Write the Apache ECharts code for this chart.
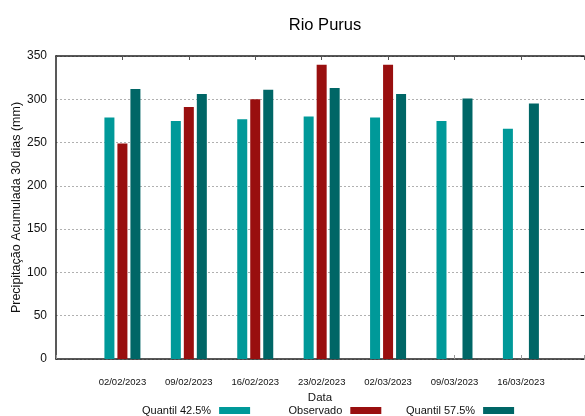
<!DOCTYPE html>
<html>
<head>
<meta charset="utf-8">
<script src="https://cdn.jsdelivr.net/npm/echarts@6/dist/echarts.min.js"></script>
<style>
html,body{margin:0;padding:0;background:#fff;}
#chart{width:585px;height:416px;}
</style>
</head>
<body>
<div id="chart"></div>
<script>
var titleText = 'Rio Purus';
var dates = ['02/02/2023','09/02/2023','16/02/2023','23/02/2023','02/03/2023','09/03/2023','16/03/2023'];
var quantil425 = [279, 275, 277, 280, 279, 275, 266];
var observado = [249, 291, 300, 340, 340, null, null];
var quantil575 = [312, 306, 311, 313, 306, 301, 295];
var seriesNames = ['Quantil 42.5%', 'Observado', 'Quantil 57.5%'];
var yTicks = [0, 50, 100, 150, 200, 250, 300, 350];

var FONT = "'Liberation Sans Narrow', 'Liberation Sans', Arial, sans-serif";
var colors = ['#009999', '#990f0f', '#006666'];

function toPoints(arr) {
  return arr.map(function (v, i) { return [i + 1, v]; });
}

var chart = echarts.init(document.getElementById('chart'), null, {renderer: 'canvas'});

var xCommon = {
  type: 'value', min: 0, max: 7.95, interval: 1,
  splitLine: {show: false}
};

var legendBase = {
  orient: 'horizontal', align: 'right', top: 405, padding: 0,
  itemWidth: 31, itemHeight: 7, icon: 'rect',
  textStyle: {fontFamily: FONT, fontSize: 11, color: '#111', padding: [0, 3, 0, 0]},
  selectedMode: false
};

chart.setOption({
  animation: false,
  backgroundColor: '#fff',
  title: {
    text: titleText, left: 320, top: 12, textAlign: 'center',
    textStyle: {fontFamily: FONT, fontSize: 16.5, fontWeight: 'normal', color: '#000'}
  },
  legend: [
    Object.assign({}, legendBase, {left: 142, data: [seriesNames[0]]}),
    Object.assign({}, legendBase, {left: 288.5, data: [seriesNames[1]]}),
    Object.assign({}, legendBase, {left: 406, data: [seriesNames[2]]})
  ],
  grid: {left: 56, right: 1, top: 56, bottom: 57, containLabel: false, outerBoundsMode: 'none'},
  xAxis: [
    Object.assign({}, xCommon, {
      position: 'bottom',
      name: 'Data', nameLocation: 'middle', nameGap: 33, nameMoveOverlap: false,
      nameTextStyle: {fontFamily: FONT, fontSize: 11.5, color: '#111'},
      axisLine: {show: true, onZero: false, lineStyle: {color: '#222', width: 1.5}},
      axisTick: {show: true, inside: true, length: 4, lineStyle: {color: '#999'}},
      axisLabel: {
        fontFamily: FONT, fontSize: 9.5, color: '#111', margin: 18,
        showMinLabel: true, showMaxLabel: true,
        formatter: function (v) {
          var i = Math.round(v);
          if (Math.abs(v - i) > 1e-6 || i < 1 || i > dates.length) return '';
          return dates[i - 1];
        }
      }
    }),
    Object.assign({}, xCommon, {
      position: 'top',
      axisLine: {show: true, onZero: false, lineStyle: {color: '#222', width: 1.5}},
      axisTick: {show: true, inside: true, length: 4, lineStyle: {color: '#555'}},
      axisLabel: {show: false}
    })
  ],
  yAxis: [
    {
      type: 'value', min: 0, max: 350, interval: 50, position: 'left',
      name: 'Precipitação Acumulada 30 dias (mm)', nameLocation: 'middle', nameGap: 33,
      nameMoveOverlap: false,
      nameTextStyle: {fontFamily: FONT, fontSize: 12.5, color: '#111'},
      axisLine: {show: true, onZero: false, lineStyle: {color: '#222', width: 1.5}},
      axisTick: {show: false},
      axisLabel: {fontFamily: FONT, fontSize: 12, color: '#111', margin: 9,
        formatter: function (v) { return yTicks.indexOf(v) >= 0 ? String(v) : ''; }},
      splitLine: {show: true, lineStyle: {color: '#b0b0b0', type: [2, 2], width: 1}}
    },
    {
      type: 'value', min: 0, max: 350, interval: 50, position: 'right',
      axisLine: {show: false, onZero: false},
      axisTick: {show: true, inside: true, length: 3, lineStyle: {color: '#222'}},
      axisLabel: {show: false},
      splitLine: {show: false}
    }
  ],
  series: [
    {name: seriesNames[0], type: 'bar', data: toPoints(quantil425), barWidth: 10, barGap: '30%',
     itemStyle: {color: colors[0]}},
    {name: seriesNames[1], type: 'bar', data: toPoints(observado), barWidth: 10, barGap: '30%',
     itemStyle: {color: colors[1]}},
    {name: seriesNames[2], type: 'bar', data: toPoints(quantil575), barWidth: 10, barGap: '30%',
     itemStyle: {color: colors[2]}}
  ]
});
</script>
</body>
</html>
